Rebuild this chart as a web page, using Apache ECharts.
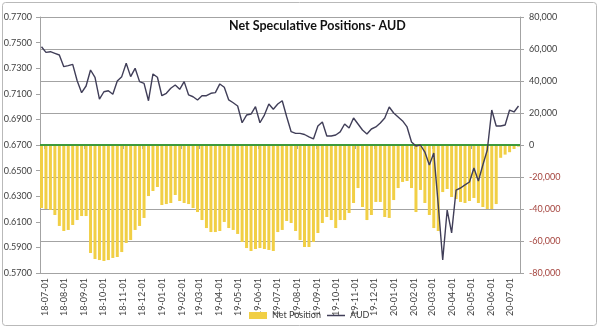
<!DOCTYPE html>
<html><head><meta charset="utf-8">
<script src="https://cdn.jsdelivr.net/npm/echarts@6/dist/echarts.min.js"></script>
<style>html,body{margin:0;padding:0;background:#fff}#c{width:600px;height:331px}</style>
</head><body><div id="c"></div>
<script>
const dates = [
'2018-06-26','2018-07-03','2018-07-10','2018-07-17','2018-07-24','2018-07-31','2018-08-07','2018-08-14','2018-08-21','2018-08-28',
'2018-09-04','2018-09-11','2018-09-18','2018-09-25','2018-10-02','2018-10-09','2018-10-16','2018-10-23','2018-10-30','2018-11-06',
'2018-11-13','2018-11-20','2018-11-27','2018-12-04','2018-12-11','2018-12-18','2018-12-25',
'2019-01-01','2019-01-08','2019-01-15','2019-01-22','2019-01-29','2019-02-05','2019-02-12','2019-02-19','2019-02-26','2019-03-05',
'2019-03-12','2019-03-19','2019-03-26','2019-04-02','2019-04-09','2019-04-16','2019-04-23','2019-04-30','2019-05-07','2019-05-14',
'2019-05-21','2019-05-28','2019-06-04','2019-06-11','2019-06-18','2019-06-25','2019-07-02','2019-07-09','2019-07-16','2019-07-23',
'2019-07-30','2019-08-06','2019-08-13','2019-08-20','2019-08-27','2019-09-03','2019-09-10','2019-09-17','2019-09-24','2019-10-01',
'2019-10-08','2019-10-15','2019-10-22','2019-10-29','2019-11-05','2019-11-12','2019-11-19','2019-11-26','2019-12-03','2019-12-10',
'2019-12-17','2019-12-24','2019-12-31',
'2020-01-07','2020-01-14','2020-01-21','2020-01-28','2020-02-04','2020-02-11','2020-02-18','2020-02-25','2020-03-03','2020-03-10',
'2020-03-17','2020-03-24','2020-03-31','2020-04-07','2020-04-14','2020-04-21','2020-04-28','2020-05-05','2020-05-12','2020-05-19',
'2020-05-26','2020-06-02','2020-06-09','2020-06-16','2020-06-23','2020-06-30','2020-07-07','2020-07-14'
];
const audRate = [
0.7468,0.7424,0.7429,0.7416,0.7403,0.7312,0.7320,0.7330,0.7202,0.7109,
0.7161,0.7286,0.7229,0.7059,0.7116,0.7124,0.7096,0.7200,0.7234,0.7338,
0.7234,0.7299,0.7195,0.7182,0.7046,0.7255,0.7229,0.7085,0.7104,0.7143,
0.7169,0.7135,0.7195,0.7091,0.7077,0.7052,0.7085,0.7085,0.7104,0.7109,
0.7177,0.7151,0.7052,0.7030,0.7005,0.6874,0.6934,0.6942,0.6999,0.6874,
0.6934,0.7020,0.6979,0.7020,0.7046,0.6921,0.6804,0.6791,0.6791,0.6782,
0.6763,0.6747,0.6848,0.6880,0.6770,0.6770,0.6778,0.6802,0.6864,0.6833,
0.6911,0.6864,0.6817,0.6786,0.6825,0.6841,0.6872,0.6911,0.6997,0.6950,
0.6919,0.6888,0.6841,0.6723,0.6692,0.6700,0.6645,0.6544,0.6638,0.6231,
0.5802,0.6192,0.6013,0.6348,0.6364,0.6388,0.6411,0.6520,0.6419,0.6544,
0.6661,0.6973,0.6848,0.6848,0.6856,0.6973,0.6958,0.7005
];
const netPosition = [
-39400,-40000,-40600,-43750,-50600,-53750,-53100,-50000,-46900,-44400,
-44400,-67500,-71250,-71900,-72500,-71900,-70600,-70000,-66900,-61250,
-59400,-53100,-50600,-45600,-31900,-28750,-26250,-37500,-36900,-36250,
-31250,-35000,-36250,-36900,-39400,-41900,-46900,-51900,-54400,-54400,
-53750,-48100,-51900,-53100,-55600,-60600,-64400,-66250,-65000,-64400,
-65000,-65600,-66250,-54400,-53100,-47500,-48750,-53750,-59400,-63750,
-63750,-60600,-55000,-48750,-45000,-46900,-51900,-46900,-46900,-42500,
-36250,-26900,-38750,-46900,-43750,-35600,-35600,-45000,-45600,-34400,
-26900,-23100,-22500,-26900,-41900,-28100,-36250,-43750,-51900,-53750,
-29400,-27500,-32500,-33750,-35600,-36250,-35000,-33100,-36250,-38750,
-40000,-40000,-36900,-8000,-6000,-4500,-2500,-1000
];
const titleText = 'Net Speculative Positions- AUD';
const seriesNames = ['Net Position', 'AUD'];
const leftAxis = {min: 0.57, max: 0.77, step: 0.02};
const rightAxis = {min: -80000, max: 80000, step: 20000};

const pad = n => String(n).padStart(2, '0');
const fmtDate = v => {
  const d = new Date(v);
  if (d.getDate() !== 1) return '';
  return pad(d.getFullYear() % 100) + '-' + pad(d.getMonth() + 1) + '-' + pad(d.getDate());
};
const grey = '#a3a3a3';
const lineColor = '#403e58';
const chart = echarts.init(document.getElementById('c'));
chart.setOption({
  animation: false,
  textStyle: {fontFamily: 'Lato'},
  title: {
    text: titleText, left: 224, top: 14,
    textStyle: {fontSize: 12.5, fontWeight: 'bold', color: '#111', fontFamily: 'Lato'}
  },
  graphic: [{
    type: 'rect', silent: true, z: -1,
    shape: {x: 2.5, y: 2.5, width: 594, height: 323, r: 3},
    style: {fill: 'none', stroke: '#b9b9b9', lineWidth: 1}
  }],
  legend: {
    left: 244, top: 306, itemWidth: 18, itemHeight: 7, itemGap: 6,
    textStyle: {fontSize: 9, color: '#404040'},
    data: [
      {name: seriesNames[0], icon: 'rect'},
      {name: seriesNames[1], icon: 'path://M0,5.5L18,5.5L18,7L0,7Z', itemStyle: {color: lineColor}}
    ]
  },
  grid: {left: 40, right: 80, top: 17, bottom: 58},
  xAxis: {
    type: 'time', min: dates[0], max: dates[dates.length - 1],
    splitNumber: 24, minInterval: 28 * 864e5, maxInterval: 31 * 864e5,
    axisLine: {lineStyle: {color: grey}},
    axisTick: {show: true, length: 4, lineStyle: {color: grey}},
    axisLabel: {rotate: 90, formatter: fmtDate, fontSize: 9, color: '#404040', margin: 5, hideOverlap: false,
      showMinLabel: true, showMaxLabel: true},
    splitLine: {show: false}
  },
  yAxis: [{
    type: 'value', position: 'left', min: leftAxis.min, max: leftAxis.max, interval: leftAxis.step,
    axisLine: {show: true, lineStyle: {color: grey}},
    axisTick: {show: true, length: 4, lineStyle: {color: grey}},
    axisLabel: {formatter: v => v.toFixed(4), fontSize: 9, color: '#404040', margin: 8},
    splitLine: {show: false}
  }, {
    type: 'value', position: 'right', min: rightAxis.min, max: rightAxis.max, interval: rightAxis.step,
    axisLine: {show: true, lineStyle: {color: grey}},
    axisTick: {show: true, length: 4, lineStyle: {color: grey}},
    axisLabel: {
      formatter: v => Number(v).toLocaleString('en-US'), fontSize: 9, margin: 9,
      color: v => (Number(v) < 0 ? '#a5453f' : '#404040')
    },
    splitLine: {show: true, lineStyle: {color: grey, width: 1}}
  }],
  series: [{
    name: seriesNames[0], type: 'bar', yAxisIndex: 1, barWidth: 3,
    itemStyle: {color: '#f1cf45'},
    data: dates.map((d, i) => [d, netPosition[i]]),
    markLine: {
      silent: true, symbol: 'none', label: {show: false},
      lineStyle: {color: '#3e9a3a', width: 2, type: 'solid'},
      data: [{yAxis: 0}]
    }
  }, {
    name: seriesNames[1], type: 'line', yAxisIndex: 0, symbol: 'none', z: 5,
    lineStyle: {color: lineColor, width: 1.4}, itemStyle: {color: lineColor},
    data: dates.map((d, i) => [d, audRate[i]])
  }]
});
</script>
</body></html>
